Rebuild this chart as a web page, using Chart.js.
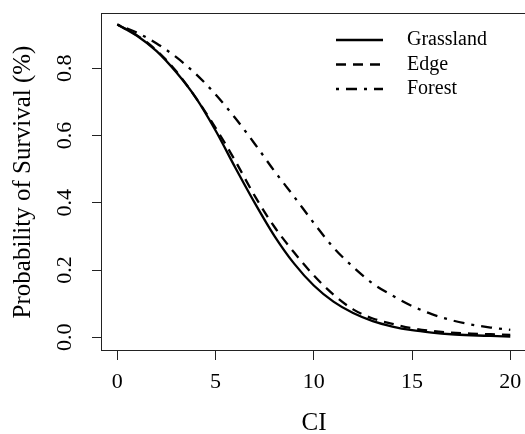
<!DOCTYPE html>
<html><head><meta charset="utf-8">
<script src="https://cdn.jsdelivr.net/npm/chart.js@4.4.1/dist/chart.umd.min.js"></script>
<style>
html,body{margin:0;padding:0;background:#fff;overflow:hidden;width:525px;height:434px;}
#wrap{position:relative;width:540px;height:434px;}
</style></head><body>
<div id="wrap"><canvas id="c" width="540" height="434"></canvas></div>
<script>
const ciValues  = [0,1,2,3,4,5,6,7,8,9,10,11,12,13,14,15,16,17,18,19,20];
const grassland = [0.930,0.897,0.851,0.788,0.712,0.615,0.505,0.399,0.301,0.219,0.154,0.106,0.072,0.048,0.032,0.021,0.014,0.009,0.006,0.004,0.002];
const edge      = [0.930,0.898,0.853,0.791,0.712,0.623,0.525,0.420,0.328,0.252,0.184,0.127,0.083,0.056,0.040,0.027,0.019,0.014,0.011,0.009,0.007];
const forest    = [0.930,0.906,0.874,0.833,0.783,0.722,0.652,0.575,0.494,0.418,0.340,0.267,0.209,0.160,0.124,0.093,0.069,0.051,0.038,0.029,0.022];
const seriesNames = ['Grassland','Edge','Forest'];
const xTicks = [0,5,10,15,20];
const yTicks = [0.0,0.2,0.4,0.6,0.8];
const xTitle = 'CI';
const yTitle = 'Probability of Survival (%)';

const FONT = '"Liberation Serif", "Times New Roman", serif';
const dashes = [[], [10,7], [3,7,11,7]];
const LW = 2.3;

function pts(arr){ return ciValues.map((x,i)=>({x:x, y:arr[i]})); }
const seriesData = [grassland, edge, forest];

const datasets = seriesNames.map((name,i)=>({
  label: name,
  data: pts(seriesData[i]),
  borderColor: '#000',
  borderWidth: LW,
  borderDash: dashes[i],
  borderCapStyle: 'butt',
  pointRadius: 0,
  fill: false,
  cubicInterpolationMode: 'monotone'
}));

const decor = {
  id: 'decor',
  afterDraw(chart){
    const ctx = chart.ctx, a = chart.chartArea;
    const xs = chart.scales.x, ys = chart.scales.y;
    ctx.save();
    // box
    ctx.strokeStyle = '#222'; ctx.lineWidth = 1; ctx.setLineDash([]);
    ctx.strokeRect(a.left - 0.5, a.top - 0.5, a.right - a.left + 1, a.bottom - a.top + 1);
    // tick labels
    ctx.fillStyle = '#000';
    ctx.font = '22px ' + FONT;
    ctx.textAlign = 'center'; ctx.textBaseline = 'middle';
    xTicks.forEach(v => ctx.fillText(String(v), xs.getPixelForValue(v), 382));
    yTicks.forEach(v => {
      ctx.save();
      ctx.translate(65, ys.getPixelForValue(v));
      ctx.rotate(-Math.PI/2);
      ctx.fillText(v.toFixed(1), 0, 0);
      ctx.restore();
    });
    // titles
    ctx.font = '25px ' + FONT;
    ctx.fillText(xTitle, (a.left + a.right)/2, 423);
    ctx.save();
    ctx.translate(23, (a.top + a.bottom)/2);
    ctx.rotate(-Math.PI/2);
    ctx.fillText(yTitle, 0, 0);
    ctx.restore();
    // legend
    const rows = [40, 64.5, 89];
    ctx.font = '20px ' + FONT;
    ctx.textAlign = 'left';
    seriesNames.forEach((name,i)=>{
      ctx.beginPath();
      ctx.strokeStyle = '#000';
      ctx.lineWidth = LW; ctx.lineCap = 'butt';
      ctx.setLineDash(dashes[i]);
      ctx.moveTo(336, rows[i]); ctx.lineTo(383, rows[i]);
      ctx.stroke();
      ctx.setLineDash([]);
      ctx.fillText(name, 407, rows[i]);
    });
    ctx.restore();
  }
};

new Chart(document.getElementById('c'), {
  type: 'line',
  data: { datasets },
  options: {
    responsive: false,
    animation: false,
    layout: { padding: { left: 0, top: 14, right: 14, bottom: 0 } },
    plugins: { legend: { display: false }, tooltip: { enabled: false } },
    scales: {
      x: {
        type: 'linear', min: -0.78, max: 20.8,
        afterBuildTicks: s => { s.ticks = xTicks.map(v => ({ value: v })); },
        afterFit: s => { s.height = 84; },
        grid: { display: true, drawOnChartArea: false, drawTicks: true, tickLength: 10, color: '#222', lineWidth: 1 },
        border: { display: false },
        ticks: { display: false }
      },
      y: {
        type: 'linear', min: -0.0378, max: 0.9615,
        afterBuildTicks: s => { s.ticks = yTicks.map(v => ({ value: v })); },
        afterFit: s => { s.width = 102; },
        grid: { display: true, drawOnChartArea: false, drawTicks: true, tickLength: 10, color: '#222', lineWidth: 1 },
        border: { display: false },
        ticks: { display: false }
      }
    }
  },
  plugins: [decor]
});
</script>
</body></html>
